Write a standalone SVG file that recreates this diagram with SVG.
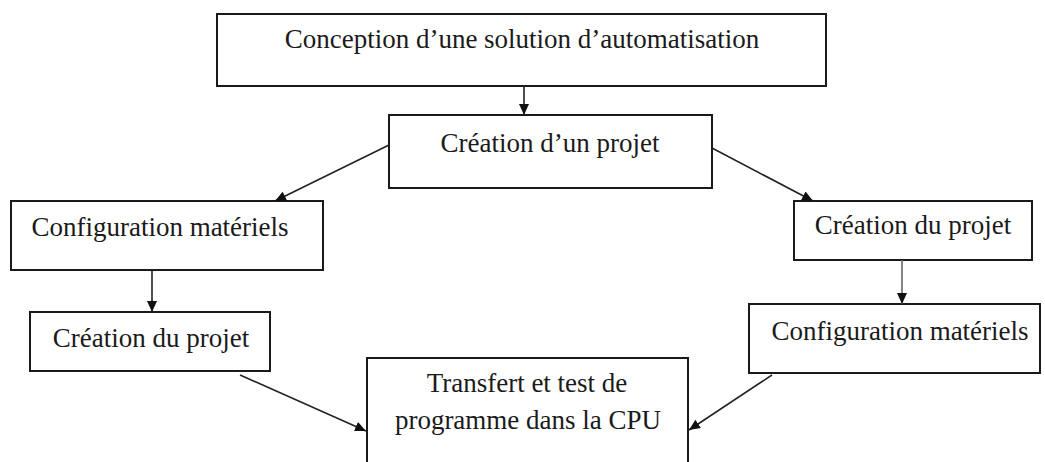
<svg xmlns="http://www.w3.org/2000/svg" width="1045" height="462" viewBox="0 0 1045 462">
  <style>
    .box { fill: #ffffff; stroke: #1a1a1a; stroke-width: 2; }
    .lbl { font-family: "Liberation Serif", "Times New Roman", serif; font-size: 27px; fill: #1a1a1a; text-anchor: middle; }
    .conn { stroke: #222222; stroke-width: 1.6; fill: none; marker-end: url(#arrow); }
  </style>
  <defs>
    <marker id="arrow" markerUnits="userSpaceOnUse" markerWidth="12" markerHeight="10" refX="11" refY="5" orient="auto">
      <path d="M0,0 L11,5 L0,10 z" fill="#111111"/>
    </marker>
  </defs>
  <rect width="1045" height="462" fill="#ffffff"/>

  <g id="conception">
    <rect class="box" x="217" y="14" width="609" height="72"/>
    <text class="lbl" x="522" y="48">Conception d’une solution d’automatisation</text>
  </g>

  <g id="creation-projet">
    <rect class="box" x="389" y="115" width="323" height="73"/>
    <text class="lbl" x="550" y="152">Création d’un projet</text>
  </g>

  <g id="config-gauche">
    <rect class="box" x="11" y="201" width="312" height="69"/>
    <text class="lbl" x="160" y="236">Configuration matériels</text>
  </g>

  <g id="creation-droite">
    <rect class="box" x="794" y="201" width="238" height="59"/>
    <text class="lbl" x="913" y="234">Création du projet</text>
  </g>

  <g id="creation-gauche">
    <rect class="box" x="30" y="312" width="240" height="59"/>
    <text class="lbl" x="151" y="347">Création du projet</text>
  </g>

  <g id="config-droite">
    <rect class="box" x="749" y="304" width="291" height="69"/>
    <text class="lbl" x="900" y="340">Configuration matériels</text>
  </g>

  <g id="transfert">
    <rect class="box" x="367" y="358" width="321" height="120"/>
    <text class="lbl" x="527" y="392">Transfert et test de</text>
    <text class="lbl" x="528" y="429">programme dans la CPU</text>
  </g>

  <g id="connectors">
    <line class="conn" x1="524" y1="86" x2="524" y2="115"/>
    <line class="conn" x1="389" y1="145" x2="275" y2="201"/>
    <line class="conn" x1="712" y1="148" x2="813" y2="201"/>
    <line class="conn" x1="152" y1="270" x2="152" y2="312"/>
    <line class="conn" x1="902" y1="260" x2="902" y2="304" style="stroke:#666666"/>
    <line class="conn" x1="240" y1="375" x2="366" y2="431"/>
    <line class="conn" x1="772" y1="375" x2="689" y2="430"/>
  </g>
</svg>
